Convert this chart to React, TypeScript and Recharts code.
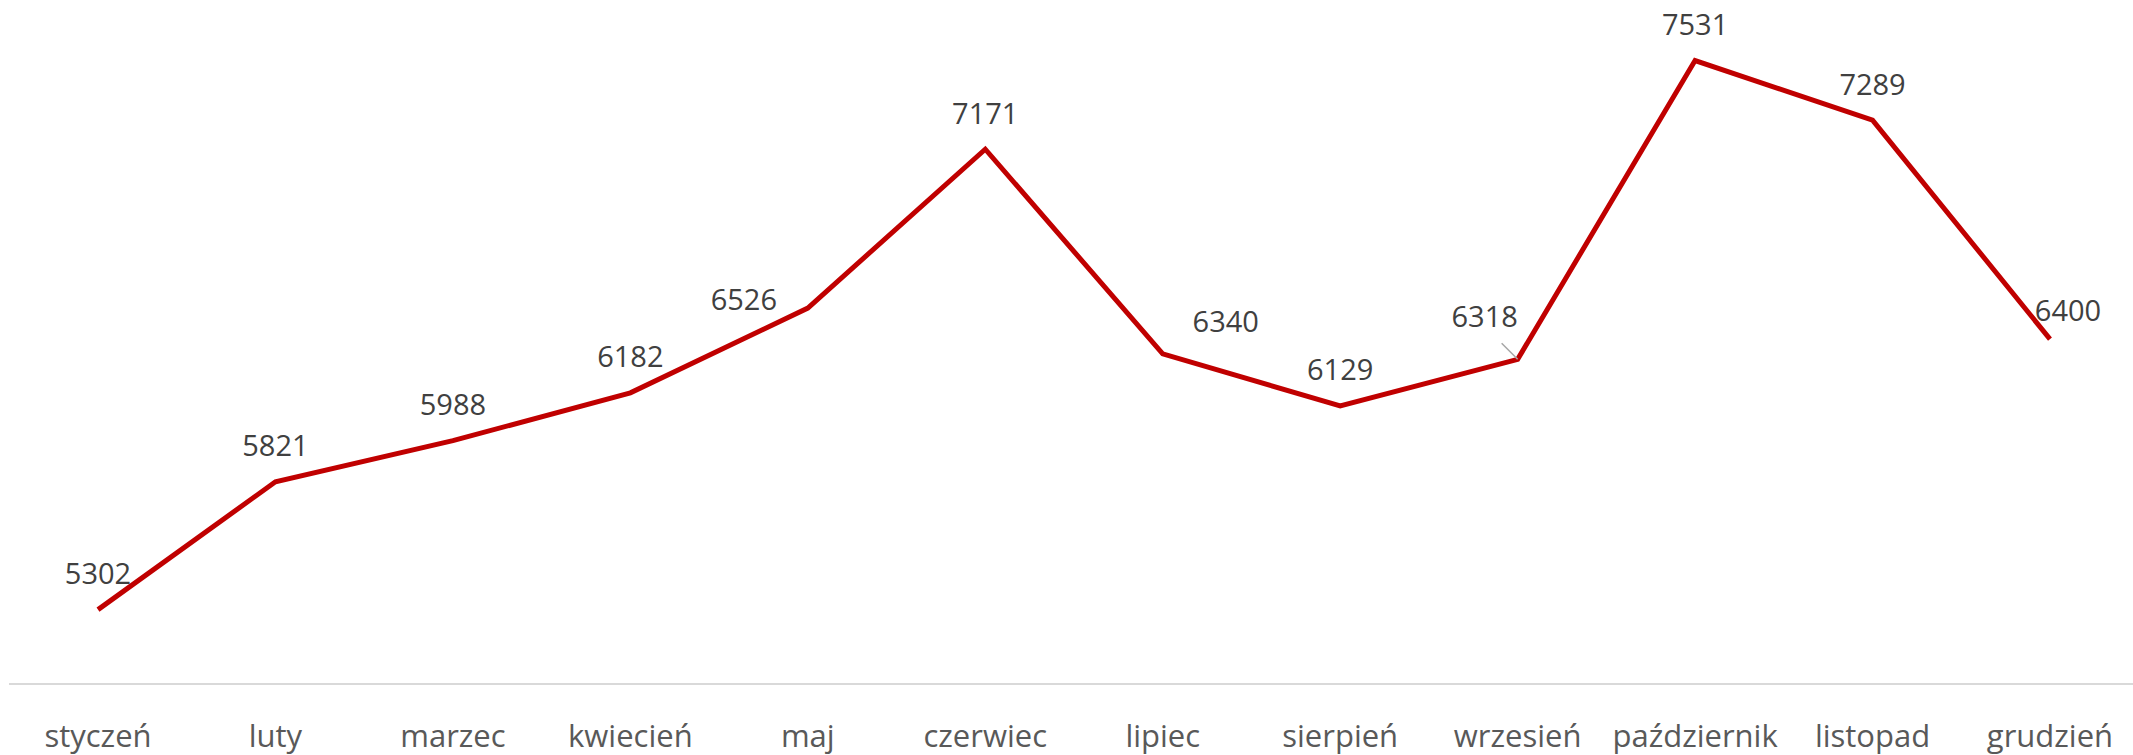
import { LineChart, Line, XAxis, YAxis, LabelList } from 'recharts';

const months = [
  'styczeń', 'luty', 'marzec', 'kwiecień', 'maj', 'czerwiec',
  'lipiec', 'sierpień', 'wrzesień', 'październik', 'listopad', 'grudzień',
];
const values = [5302, 5821, 5988, 6182, 6526, 7171, 6340, 6129, 6318, 7531, 7289, 6400];

// label nudges (px) per point, Excel-style manual placement
const labelDx = [0, 0, 0, 0, -64, 0, 63, 0, -33, 0, 0, 18];
const labelDy = [-37, -37, -37, -37, -10, -37, -33, -37, -44, -37, -37, -30];

const data = months.map((month, i) => ({ month, value: values[i] }));

const FONT = '"Open Sans", sans-serif';

function PointLabel(props: any) {
  const { x, y, index, value } = props;
  const dx = labelDx[index];
  const dy = labelDy[index];
  return (
    <g>
      {index === 8 && (
        <line x1={x - 16} y1={y - 16} x2={x} y2={y} stroke="#a6a6a6" strokeWidth={1.5} />
      )}
      <text
        x={x + dx}
        y={y + dy}
        textAnchor="middle"
        dominantBaseline="central"
        fill="#404040"
        fontSize={29}
        fontFamily={FONT}
      >
        {value}
      </text>
    </g>
  );
}

export default function App() {
  return (
    <div style={{ position: 'absolute', left: 0, top: 0, background: '#fff' }}>
      <LineChart
        width={2133}
        height={755}
        data={data}
        margin={{ top: -55, right: -6, bottom: 0, left: 9 }}
      >
        <XAxis
          dataKey="month"
          height={71}
          padding={{ left: 89, right: 89 }}
          axisLine={{ stroke: '#d9d9d9', strokeWidth: 2 }}
          tickLine={false}
          tickMargin={35}
          tick={{ fill: '#595959', fontSize: 31, fontFamily: FONT }}
          interval={0}
        />
        <YAxis hide domain={[5000, 8000]} />
        <Line
          type="linear"
          dataKey="value"
          stroke="#c00000"
          strokeWidth={5}
          dot={false}
          activeDot={false}
          isAnimationActive={false}
        >
          <LabelList dataKey="value" content={<PointLabel />} />
        </Line>
      </LineChart>
    </div>
  );
}
